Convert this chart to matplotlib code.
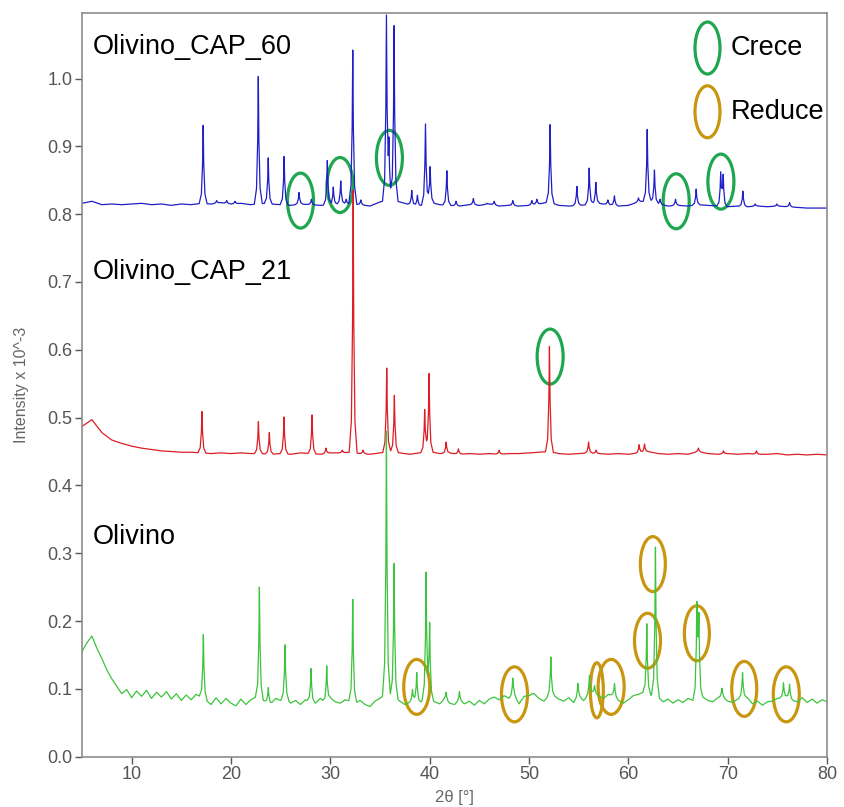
import numpy as np
import matplotlib.pyplot as plt
from matplotlib.patches import Ellipse

plt.rcParams['font.family'] = ['Liberation Sans', 'DejaVu Sans']

# ---- data ----
# background levels, Olivino (green), 0.5 deg steps from 5 to 80
bg_green_x = np.arange(5.0, 80.01, 0.5)
bg_green_y = [0.155, 0.168, 0.178, 0.160, 0.145, 0.128, 0.115, 0.104, 0.093, 0.099,
              0.087, 0.097, 0.089, 0.098, 0.086, 0.095, 0.088, 0.096, 0.085, 0.093,
              0.083, 0.091, 0.084, 0.092, 0.088, 0.083, 0.077, 0.087, 0.078, 0.086,
              0.079, 0.075, 0.085, 0.077, 0.084, 0.088, 0.085, 0.081, 0.078, 0.086,
              0.083, 0.087, 0.079, 0.083, 0.077, 0.084, 0.081, 0.079, 0.086, 0.080,
              0.087, 0.081, 0.079, 0.084, 0.082, 0.079, 0.083, 0.077, 0.074, 0.082,
              0.086, 0.092, 0.090, 0.088, 0.082, 0.077, 0.080, 0.082, 0.080, 0.085,
              0.086, 0.081, 0.078, 0.085, 0.079, 0.077, 0.083, 0.078, 0.082, 0.076,
              0.083, 0.078, 0.085, 0.088, 0.084, 0.090, 0.086, 0.091, 0.078, 0.089,
              0.090, 0.093, 0.086, 0.082, 0.090, 0.090, 0.085, 0.082, 0.087, 0.080,
              0.089, 0.083, 0.091, 0.094, 0.090, 0.086, 0.092, 0.090, 0.083, 0.079,
              0.084, 0.090, 0.092, 0.095, 0.092, 0.090, 0.088, 0.081, 0.085, 0.079,
              0.084, 0.080, 0.086, 0.083, 0.090, 0.088, 0.083, 0.081, 0.087, 0.088,
              0.082, 0.080, 0.085, 0.088, 0.087, 0.078, 0.082, 0.076, 0.081, 0.082,
              0.086, 0.087, 0.088, 0.083, 0.081, 0.087, 0.080, 0.085, 0.079, 0.084,
              0.081]

# background levels, CAP_60 (blue) and CAP_21 (red), 1 deg steps from 5 to 80
bg_x = np.arange(5.0, 80.01, 1.0)
bg_blue_y = [0.816, 0.819, 0.814, 0.815, 0.814, 0.815, 0.816, 0.814, 0.815, 0.813,
             0.815, 0.814, 0.816, 0.815, 0.817, 0.815, 0.816, 0.814, 0.816, 0.815,
             0.814, 0.813, 0.815, 0.814, 0.813, 0.814, 0.815, 0.815, 0.814, 0.812,
             0.818, 0.822, 0.818, 0.814, 0.812, 0.818, 0.814, 0.813, 0.812, 0.814,
             0.813, 0.815, 0.812, 0.813, 0.812, 0.813, 0.815, 0.818, 0.813, 0.812,
             0.813, 0.814, 0.816, 0.814, 0.812, 0.813, 0.818, 0.820, 0.815, 0.812,
             0.813, 0.812, 0.814, 0.813, 0.812, 0.811, 0.812, 0.811, 0.812, 0.811,
             0.812, 0.811, 0.810, 0.809, 0.809, 0.809]
bg_red_y = [0.487, 0.497, 0.478, 0.467, 0.462, 0.458, 0.455, 0.453, 0.451, 0.450,
            0.449, 0.449, 0.448, 0.447, 0.448, 0.447, 0.448, 0.447, 0.447, 0.446,
            0.447, 0.446, 0.448, 0.447, 0.446, 0.448, 0.448, 0.449, 0.447, 0.446,
            0.448, 0.450, 0.448, 0.446, 0.448, 0.450, 0.447, 0.448, 0.446, 0.447,
            0.446, 0.447, 0.446, 0.447, 0.447, 0.448, 0.449, 0.450, 0.447, 0.446,
            0.447, 0.448, 0.447, 0.446, 0.447, 0.446, 0.448, 0.450, 0.447, 0.446,
            0.447, 0.446, 0.450, 0.447, 0.446, 0.447, 0.446, 0.447, 0.446, 0.446,
            0.447, 0.445, 0.446, 0.445, 0.446, 0.445]

# peak positions (2theta) and peak top intensities
blue_pos = [17.2, 18.56, 19.57, 20.4, 22.75, 23.75, 25.35, 26.85, 28.1, 29.7, 30.3, 31.05,
            31.6, 32.26, 33.07, 35.65, 35.9, 36.42, 38.2, 38.77, 39.58, 40.05, 41.73,
            42.66, 44.4, 45.76, 46.5, 48.37, 50.29, 50.79, 52.13, 54.82, 56.06, 56.73,
            57.94, 58.6, 61.02, 61.9, 62.63, 63.2, 64.75, 66.83, 69.3, 69.55, 71.53,
            72.77, 74.95, 76.23]
blue_top = [0.931, 0.820, 0.820, 0.819, 1.003, 0.883, 0.885, 0.832, 0.822, 0.879, 0.840, 0.849,
            0.822, 1.042, 0.821, 1.088, 0.892, 1.078, 0.835, 0.828, 0.933, 0.870, 0.864,
            0.819, 0.823, 0.816, 0.819, 0.820, 0.820, 0.822, 0.932, 0.841, 0.868, 0.847,
            0.821, 0.827, 0.824, 0.925, 0.865, 0.822, 0.822, 0.837, 0.859, 0.855, 0.834,
            0.815, 0.815, 0.817]

red_pos = [17.08, 22.76, 23.86, 25.34, 28.16, 29.57, 31.2, 32.3, 33.3, 35.68, 36.45, 39.5,
           39.94, 41.66, 42.9, 47.0, 52.06, 56.0, 56.76, 61.09, 61.63, 67.06, 69.58, 72.9]
red_top = [0.509, 0.494, 0.478, 0.501, 0.504, 0.455, 0.452, 0.835, 0.452, 0.573, 0.533, 0.512,
           0.565, 0.464, 0.454, 0.452, 0.605, 0.464, 0.452, 0.460, 0.461, 0.455, 0.451, 0.451]

green_pos = [17.22, 22.86, 23.76, 25.44, 28.06, 29.64, 32.26, 35.65, 36.42, 38.27, 38.7,
             39.64, 40.0, 41.66, 43.0, 48.37, 50.29, 52.2, 54.92, 56.09, 56.6, 58.61,
             61.86, 62.73, 66.9, 67.1, 69.42, 71.5, 75.62, 76.23]
green_top = [0.180, 0.250, 0.102, 0.165, 0.130, 0.134, 0.232, 0.480, 0.285, 0.099, 0.124,
             0.270, 0.194, 0.095, 0.096, 0.116, 0.093, 0.147, 0.108, 0.120, 0.105, 0.108,
             0.196, 0.309, 0.217, 0.199, 0.101, 0.124, 0.109, 0.107]

# marked peaks (2theta, intensity)
crece_x = [27.0, 30.98, 35.95, 64.82, 69.32, 52.13]
crece_y = [0.820, 0.843, 0.883, 0.819, 0.848, 0.590]
reduce_x = [38.7, 48.54, 56.83, 58.27, 61.93, 62.47, 66.9, 71.67, 75.9]
reduce_y = [0.103, 0.092, 0.098, 0.103, 0.171, 0.284, 0.182, 0.100, 0.092]
reduce_w = [26, 26, 13, 26, 26, 25, 25, 25, 26]

labels = ['Olivino_CAP_60', 'Olivino_CAP_21', 'Olivino']
label_y = [1.047, 0.715, 0.324]

# peak profile (offset in deg, fraction of peak height)
prof_dx = [-0.4, -0.18, -0.06, 0.0, 0.06, 0.18, 0.4]
prof_f = [0.0, 0.12, 0.5, 1.0, 0.5, 0.12, 0.0]


def trace(bx, by, pos, top):
    # sample at the background steps plus every peak profile vertex
    xs = [np.asarray(bx, float)]
    for p in pos:
        xs.append(p + np.array(prof_dx))
    grid = np.unique(np.clip(np.concatenate(xs), 5.0, 80.0))
    y = np.interp(grid, bx, by)
    for p, t in zip(pos, top):
        h = t - np.interp(p, bx, by)
        y = y + h * np.interp(grid - p, prof_dx, prof_f, left=0, right=0)
    return grid, y


fig = plt.figure(figsize=(8.45, 8.07), dpi=100)
ax = fig.add_axes([0.097, 0.0623, 0.8817, 0.9219])

ax.plot(*trace(bg_x, bg_blue_y, blue_pos, blue_top), color='#1f1fc8', lw=0.9)
ax.plot(*trace(bg_x, bg_red_y, red_pos, red_top), color='#dc1e24', lw=0.9)
ax.plot(*trace(bg_green_x, bg_green_y, green_pos, green_top), color='#3cc43c', lw=0.9)

px_x = 9.93   # pixels per degree
px_y = 678.0  # pixels per intensity unit
green_c = '#1fa650'
gold_c = '#c8960f'
for x, y in zip(crece_x, crece_y):
    ax.add_patch(Ellipse((x, y), 26 / px_x, 55 / px_y, fill=False, ec=green_c, lw=2.3))
for x, y, w in zip(reduce_x, reduce_y, reduce_w):
    ax.add_patch(Ellipse((x, y), w / px_x, 55 / px_y, fill=False, ec=gold_c, lw=2.3))

# key
ax.add_patch(Ellipse((67.97, 1.045), 25 / px_x, 52 / px_y, fill=False, ec=green_c, lw=2.3))
ax.add_patch(Ellipse((67.97, 0.951), 25 / px_x, 52 / px_y, fill=False, ec=gold_c, lw=2.3))
ax.text(70.3, 1.045, 'Crece', fontsize=19.5, va='center', ha='left')
ax.text(70.3, 0.951, 'Reduce', fontsize=19.5, va='center', ha='left')

for lab, y in zip(labels, label_y):
    ax.text(6.1, y, lab, fontsize=19.5, va='center', ha='left')

ax.set_xlim(5, 80)
ax.set_ylim(0, 1.097)
ax.set_xticks(np.arange(10, 81, 10))
ax.set_yticks(np.arange(0, 1.01, 0.1))
ax.yaxis.set_major_formatter(plt.FormatStrFormatter('%.1f'))
ax.tick_params(colors='#555555', labelsize=13, length=5, width=1, pad=2)
for s in ax.spines.values():
    s.set_color('#8c8c8c')
    s.set_linewidth(1.2)

ax.set_ylabel('Intensity x 10^-3', fontsize=11.5, color='#666666', labelpad=13)
ax.set_xlabel('2θ [°]', fontsize=12, color='#666666', labelpad=5)

fig.savefig('out.png', dpi=100)
